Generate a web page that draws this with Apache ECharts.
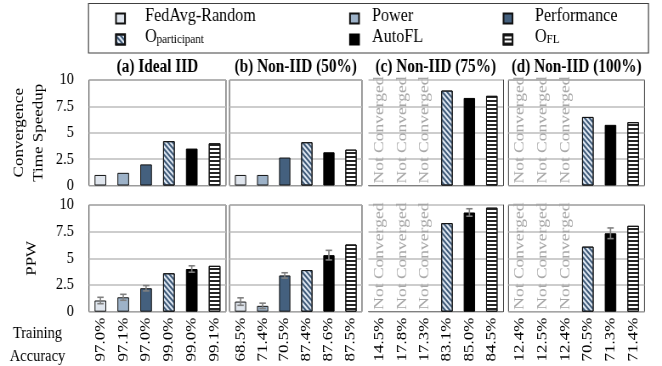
<!DOCTYPE html>
<html><head><meta charset="utf-8">
<script src="https://cdn.jsdelivr.net/npm/echarts@6/dist/echarts.min.js"></script>
<style>
html,body{margin:0;padding:0;background:#fff;overflow:hidden}
#wrap{width:662px;height:366px;overflow:hidden;background:#fff}
#c{width:779px;height:366px;transform:scaleX(0.849807);transform-origin:0 0}
</style></head><body><div id="wrap"><div id="c"></div></div>
<script>
// ---------------- data ----------------
const methods = ['FedAvg-Random','Power','Performance','Oparticipant','AutoFL','OFL'];
const panelTitles = ['(a) Ideal IID','(b) Non-IID (50%)','(c) Non-IID (75%)','(d) Non-IID (100%)'];
const accuracyA = ['97.0%','97.1%','97.0%','99.0%','99.0%','99.1%'];
const accuracyB = ['68.5%','71.4%','70.5%','87.4%','87.6%','87.5%'];
const accuracyC = ['14.5%','17.8%','17.3%','83.1%','85.0%','84.5%'];
const accuracyD = ['12.4%','12.5%','12.4%','70.5%','71.3%','71.4%'];
const speedupA = [1.0, 1.2, 2.0, 4.2, 3.5, 4.0];
const speedupB = [1.0, 1.0, 2.65, 4.1, 3.15, 3.4];
const speedupC = [null, null, null, 9.0, 8.3, 8.5];
const speedupD = [null, null, null, 6.5, 5.75, 6.0];
const ppwA = [1.05, 1.35, 2.2, 3.6, 4.0, 4.3];
const ppwB = [0.95, 0.55, 3.4, 3.9, 5.3, 6.3];
const ppwC = [null, null, null, 8.3, 9.3, 9.75];
const ppwD = [null, null, null, 6.1, 7.35, 8.05];
const ppwErrA = [0.3, 0.28, 0.25, null, 0.3, null];
const ppwErrB = [0.35, 0.25, 0.25, null, 0.45, null];
const ppwErrC = [null, null, null, null, 0.35, null];
const ppwErrD = [null, null, null, null, 0.5, null];
const yMin = 0, yMax = 10, yStep = 2.5;
const rowNames = ['Convergence\nTime Speedup', 'PPW'];
const notConvergedText = 'Not Converged';

// ---------------- layout / style ----------------
const S = 662 / 779;           // horizontal compression of the whole figure
const X = v => v / S;
const FONT = 'Liberation Serif';
const colX = [[89, 226], [229.5, 362], [368.5, 503], [508.5, 644.5]];
const rowY = [[80, 185.5], [205, 311.7]];
const accs = [accuracyA, accuracyB, accuracyC, accuracyD];
const rows = [[speedupA, speedupB, speedupC, speedupD], [ppwA, ppwB, ppwC, ppwD]];
const errs = [[null, null, null, null], [ppwErrA, ppwErrB, ppwErrC, ppwErrD]];

const styles = [
  {color: '#dfe5ed', borderColor: '#111', borderWidth: 1},
  {color: '#9db2c8', borderColor: '#111', borderWidth: 1},
  {color: '#44607e', borderColor: '#111', borderWidth: 1},
  {color: '#dfe8f3', borderColor: '#111', borderWidth: 1,
    decal: {symbol: 'rect', symbolSize: 1, dashArrayX: [1, 0], dashArrayY: [1.4, 2.0], rotation: Math.PI / 4, color: '#3f5a78'}},
  {color: '#000000', borderColor: '#000', borderWidth: 1},
  {color: '#ffffff', borderColor: '#111', borderWidth: 1,
    decal: {symbol: 'rect', symbolSize: 1, dashArrayX: [1, 0], dashArrayY: [1.5, 1.5], rotation: 0, color: '#262626'}}
];

const grid = [], xAxis = [], yAxis = [], series = [];
for (let r = 0; r < 2; r++) {
  for (let c = 0; c < 4; c++) {
    const g = r * 4 + c;
    const vals = rows[r][c];
    const open = c === 2;   // panel (c) has no left border in the original
    grid.push({left: X(colX[c][0]), width: X(colX[c][1] - colX[c][0]), top: rowY[r][0], height: rowY[r][1] - rowY[r][0],
      show: !open, borderColor: '#3a3a3a', borderWidth: 1, backgroundColor: 'transparent', outerBoundsMode: 'none', containLabel: false});
    const acc = accs[c];
    xAxis.push({type: 'category', gridIndex: g, data: methods, boundaryGap: true,
      axisLine: {show: open, lineStyle: {color: '#808080', width: 1.2}}, axisTick: {show: false}, splitLine: {show: false},
      axisLabel: {show: r === 1, rotate: 90, interval: 0, margin: 6, fontSize: 17, fontFamily: FONT, color: '#000',
        formatter: (v, i) => acc[i]}});
    yAxis.push({type: 'value', gridIndex: g, min: yMin, max: yMax, interval: yStep, position: open ? 'right' : 'left',
      axisLine: {show: open, lineStyle: {color: '#3a3a3a', width: 1}}, axisTick: {show: false},
      splitLine: {show: true, lineStyle: {color: '#bdbdbd', width: 1.5}},
      axisLabel: {show: c === 0, margin: X(15), fontSize: 17, fontFamily: FONT, color: '#000'}});
    for (let m = 0; m < 6; m++) {
      series.push({type: 'bar', name: methods[m], xAxisIndex: g, yAxisIndex: g, stack: 'g' + g, barWidth: '51%',
        itemStyle: styles[m], emphasis: {disabled: true}, animation: false,
        data: vals.map((v, i) => (i === m && v != null) ? v : '-')});
    }
    const nc = vals.map((v, i) => v == null ? [i] : null).filter(d => d);
    if (nc.length) {
      series.push({type: 'custom', xAxisIndex: g, yAxisIndex: g, z: 5, animation: false, silent: true,
        data: nc,
        renderItem: (params, api) => {
          const p = api.coord([api.value(0), 0]);
          return {type: 'text', x: p[0], y: p[1] - 2, rotation: Math.PI / 2,
            style: {text: notConvergedText, fill: '#a8a8a8', fontSize: 17.5, fontFamily: FONT, align: 'left', verticalAlign: 'middle'}};
        }});
    }
    const e = errs[r][c];
    if (e) {
      const ed = e.map((v, i) => v != null ? [i, vals[i] - v, vals[i] + v] : null).filter(d => d);
      series.push({type: 'custom', xAxisIndex: g, yAxisIndex: g, z: 6, animation: false, silent: true,
        data: ed,
        renderItem: (params, api) => {
          const lo = api.coord([api.value(0), api.value(1)]);
          const hi = api.coord([api.value(0), api.value(2)]);
          const w = X(3.2);
          const ls = {stroke: '#808080', lineWidth: 1.6};
          return {type: 'group', children: [
            {type: 'line', shape: {x1: lo[0], y1: lo[1], x2: hi[0], y2: hi[1]}, style: ls},
            {type: 'line', shape: {x1: lo[0] - w, y1: lo[1], x2: lo[0] + w, y2: lo[1]}, style: ls},
            {type: 'line', shape: {x1: hi[0] - w, y1: hi[1], x2: hi[0] + w, y2: hi[1]}, style: ls}
          ]};
        }});
    }
  }
}

// legend: swatch-only and text-only legends per entry, laid out 3x2
// [swatch left, text left, row centre]
const legendPos = [[116, 145, 17.5], [350, 372, 17.5], [503.5, 535, 17.5], [116, 145, 38.5], [350, 372, 38.5], [503.5, 535, 38.5]];
function buildLegend(swShift, txShift) {
  const legend = [];
  methods.forEach((name, k) => {
    legend.push({data: [name], left: X(legendPos[k][0]) - swShift, top: legendPos[k][2] - 5, padding: 0, itemGap: 0,
      itemWidth: X(9), itemHeight: 10, selectedMode: false, icon: 'rect', formatter: () => '',
      textStyle: {fontSize: 1, lineHeight: 10}});
    legend.push({data: [name], left: X(legendPos[k][1]) - txShift, top: legendPos[k][2] - 11, padding: 0, itemGap: 0,
      itemWidth: 0, itemHeight: 0, selectedMode: false, icon: 'none',
      formatter: n => n === 'Oparticipant' ? '{m|O}{s|participant}' : n === 'OFL' ? '{m|O}{s|FL}' : '{m|' + n + '}',
      textStyle: {color: '#000', fontFamily: FONT,
        rich: {m: {fontSize: 19, lineHeight: 22, fontFamily: FONT, color: '#000', verticalAlign: 'bottom'},
               s: {fontSize: 13, lineHeight: 16, fontFamily: FONT, color: '#000', verticalAlign: 'bottom'}}}});
  });
  return legend;
}

const graphic = [
  {type: 'rect', shape: {x: X(88.5), y: 3.5, width: X(648.5 - 88.5), height: 49.5}, style: {fill: 'none', stroke: '#404040', lineWidth: 1.2}, z: 0}
];
panelTitles.forEach((t, c) => graphic.push({type: 'text', x: X((colX[c][0] + colX[c][1]) / 2), y: 67,
  style: {text: t, fontSize: 18, fontWeight: 'bold', fontFamily: FONT, fill: '#000', align: 'center', verticalAlign: 'middle'}}));
graphic.push({type: 'text', x: X(29), y: (rowY[0][0] + rowY[0][1]) / 2, rotation: Math.PI / 2,
  style: {text: rowNames[0], fontSize: 17, fontFamily: FONT, lineHeight: X(20), fill: '#000', align: 'center', verticalAlign: 'middle'}});
graphic.push({type: 'text', x: X(32), y: (rowY[1][0] + rowY[1][1]) / 2, rotation: Math.PI / 2,
  style: {text: rowNames[1], fontSize: 17, fontFamily: FONT, fill: '#000', align: 'center', verticalAlign: 'middle'}});
graphic.push({type: 'text', x: X(37.5), y: 345.5,
  style: {text: 'Training\nAccuracy', fontSize: 17, fontFamily: FONT, lineHeight: 23, fill: '#000', align: 'center', verticalAlign: 'middle'}});

const chart = echarts.init(document.getElementById('c'), null, {renderer: 'canvas'});
chart.setOption({animation: false, backgroundColor: '#fff', legend: buildLegend(0, 5), grid, xAxis, yAxis, series, graphic});

// measure where the legend swatches / texts actually landed and correct their offsets
function median(a) { const s = a.slice().sort((p, q) => p - q); return s.length ? s[Math.floor(s.length / 2)] : 0; }
try {
  const list = chart.getZr().storage.getDisplayList(true);
  const swTargets = [116, 350, 503.5].map(X), txTargets = [145, 372, 535].map(X);
  const swD = [], txD = [];
  list.forEach(el => {
    if (!el || el.invisible || !el.getBoundingRect) return;
    const r = el.getBoundingRect().clone();
    const m = el.getComputedTransform ? el.getComputedTransform() : el.transform;
    if (m) r.applyTransform(m);
    if (r.y < 2 || r.y + r.height > 56) return;
    const st = el.style || {};
    const near = (x, t) => t.reduce((b, v) => Math.abs(x - v) < Math.abs(x - b) ? v : b, t[0]);
    if (typeof st.text === 'string') {
      if (st.text === 'FedAvg-Random' || st.text === 'Power' || st.text === 'Performance' || st.text === 'AutoFL') {
        txD.push(r.x - near(r.x, txTargets));
      }
    } else if (r.width > 8 && r.width < 16 && r.height > 7 && r.height < 14) {
      swD.push(r.x + (r.width - X(9)) / 2 - near(r.x, swTargets));
    }
  });
  const sd = median(swD), td = median(txD);
  if (Math.abs(sd) > 0.5 || Math.abs(td) > 0.5) {
    chart.setOption({legend: buildLegend(sd, 5 + td)}, {replaceMerge: ['legend']});
  }
} catch (err) { /* keep default placement */ }
</script></body></html>
